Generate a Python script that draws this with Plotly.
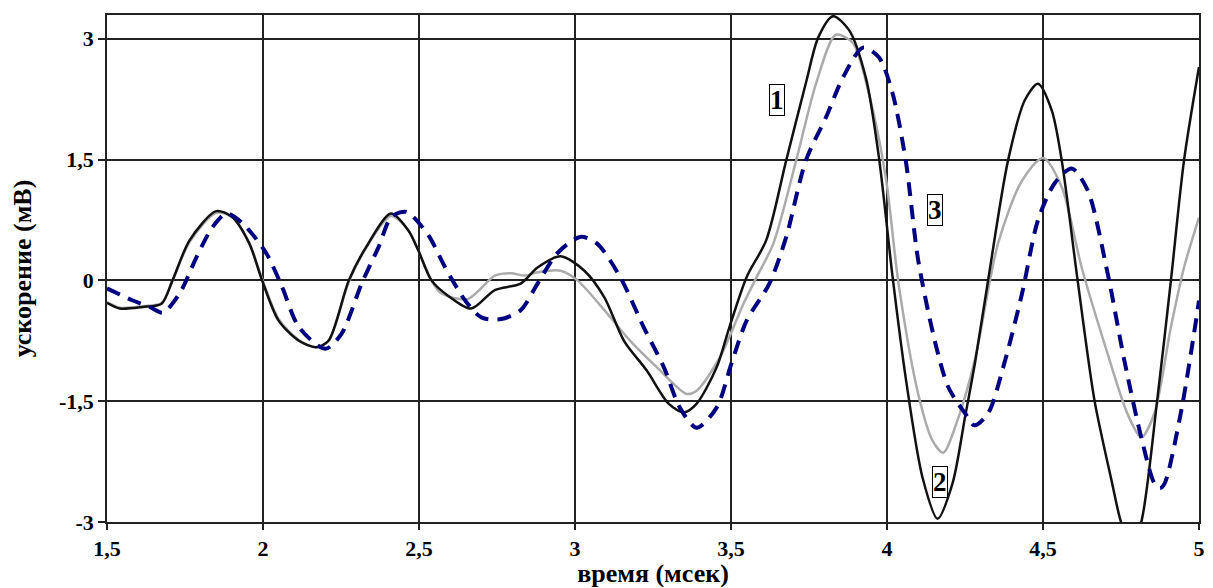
import plotly.graph_objects as go

# Series 1 (black)
x1 = [1.50, 1.541, 1.615, 1.675, 1.71, 1.765, 1.85, 1.90, 1.956, 1.997, 2.05, 2.115, 2.17, 2.21,
      2.275, 2.33, 2.41, 2.466, 2.498, 2.54, 2.593, 2.667, 2.743, 2.826, 2.88, 2.954, 3.03, 3.094,
      3.157, 3.23, 3.30, 3.349, 3.39, 3.454, 3.495, 3.55, 3.613, 3.677, 3.74, 3.78, 3.827, 3.878,
      3.932, 3.974, 4.018, 4.06, 4.114, 4.162, 4.21, 4.25, 4.283, 4.324, 4.388, 4.442, 4.484,
      4.528, 4.56, 4.611, 4.665, 4.72, 4.75, 4.783, 4.815, 4.866, 4.91, 4.952, 5.0]
y1 = [-0.28, -0.35, -0.33, -0.29, 0.0, 0.50, 0.86, 0.79, 0.46, 0.0, -0.50, -0.75, -0.83, -0.75,
      0.0, 0.41, 0.83, 0.62, 0.37, 0.0, -0.19, -0.35, -0.12, -0.04, 0.16, 0.30, 0.12, -0.21,
      -0.75, -1.12, -1.53, -1.64, -1.53, -1.08, -0.58, 0.04, 0.50, 1.49, 2.45, 3.02, 3.28, 3.11,
      2.52, 1.53, 0.04, -1.21, -2.45, -2.96, -2.52, -1.70, -1.0, 0.0, 1.49, 2.24, 2.44,
      2.11, 1.49, 0.0, -1.49, -2.49, -3.0, -3.3, -3.0, -1.49, 0.0, 1.49, 2.65]

# Series 2 (gray)
x2 = [1.50, 1.541, 1.615, 1.675, 1.71, 1.765, 1.85, 1.90, 1.956, 1.997, 2.05, 2.115, 2.17, 2.21,
      2.275, 2.33, 2.41, 2.466, 2.498, 2.54, 2.571, 2.657, 2.743, 2.794, 2.839, 2.88, 2.954,
      3.008, 3.103, 3.177, 3.263, 3.358, 3.39, 3.464, 3.54, 3.582, 3.636, 3.709, 3.773, 3.836,
      3.89, 3.942, 3.996, 4.037, 4.10, 4.146, 4.18, 4.229, 4.283, 4.356, 4.433, 4.50, 4.56,
      4.624, 4.707, 4.77, 4.815, 4.857, 4.91, 4.952, 5.0]
y2 = [-0.27, -0.34, -0.32, -0.28, 0.0, 0.48, 0.84, 0.79, 0.46, 0.02, -0.48, -0.74, -0.83, -0.75,
      -0.02, 0.40, 0.80, 0.62, 0.37, 0.0, -0.16, -0.23, 0.06, 0.09, 0.06, 0.10, 0.12,
      0.0, -0.41, -0.75, -1.08, -1.41, -1.37, -0.96, -0.29, 0.04, 0.46, 1.49, 2.45, 3.05,
      2.95, 2.32, 1.28, -0.04, -1.41, -1.99, -2.14, -1.70, -0.96, 0.46, 1.24, 1.52, 1.16,
      0.16, -0.91, -1.65, -1.95, -1.65, -0.58, 0.16, 0.78]

# Series 3 (navy dashed)
x3 = [1.50, 1.583, 1.637, 1.679, 1.733, 1.787, 1.838, 1.883, 1.934, 2.01, 2.061, 2.115, 2.20,
      2.252, 2.316, 2.37, 2.412, 2.46, 2.53, 2.584, 2.648, 2.70, 2.763, 2.826, 2.88, 2.944,
      3.017, 3.07, 3.145, 3.22, 3.285, 3.336, 3.39, 3.454, 3.50, 3.55, 3.623, 3.677, 3.74,
      3.805, 3.859, 3.923, 3.974, 4.018, 4.06, 4.10, 4.155, 4.197, 4.25, 4.28, 4.324, 4.378,
      4.433, 4.484, 4.538, 4.592, 4.643, 4.707, 4.761, 4.815, 4.857, 4.875, 4.89, 4.943,
      4.984, 5.0]
y3 = [-0.10, -0.25, -0.33, -0.40, -0.16, 0.29, 0.66, 0.83, 0.71, 0.34, -0.08, -0.58, -0.85,
      -0.66, -0.04, 0.41, 0.79, 0.85, 0.56, 0.16, -0.25, -0.46, -0.48, -0.37, -0.04, 0.34,
      0.54, 0.46, 0.04, -0.58, -1.08, -1.58, -1.83, -1.58, -1.05, -0.50, -0.04, 0.54, 1.49,
      2.03, 2.52, 2.89, 2.77, 2.32, 1.49, 0.25, -0.78, -1.33, -1.65, -1.80, -1.65, -1.0,
      -0.16, 0.75, 1.21, 1.39, 1.12, 0.09, -1.0, -1.95, -2.52, -2.58, -2.52, -1.62,
      -0.66, -0.25]

xticks = [1.5, 2, 2.5, 3, 3.5, 4, 4.5, 5]
xticklabels = ["1,5", "2", "2,5", "3", "3,5", "4", "4,5", "5"]
yticks = [-3, -1.5, 0, 1.5, 3]
yticklabels = ["-3", "-1,5", "0", "1,5", "3"]

labels = ["1", "3", "2"]
label_x = [3.649, 4.155, 4.171]
label_y = [2.24, 0.87, -2.50]

fig = go.Figure()
fig.add_trace(go.Scatter(x=x2, y=y2, mode="lines", line=dict(color="#ababab", width=2.5, shape="spline", smoothing=0.8), showlegend=False))
fig.add_trace(go.Scatter(x=x1, y=y1, mode="lines", line=dict(color="#111111", width=2.5, shape="spline", smoothing=0.8), showlegend=False))
fig.add_trace(go.Scatter(x=x3, y=y3, mode="lines", line=dict(color="#000080", width=4, shape="spline", smoothing=0.8, dash="14px,9px"), showlegend=False))

for t, ax, ay in zip(labels, label_x, label_y):
    fig.add_annotation(x=ax, y=ay, text="<b>" + t + "</b>", showarrow=False,
                       font=dict(family="Liberation Serif", size=27, color="black"),
                       bordercolor="black", borderwidth=1, borderpad=0, bgcolor="white")

tickfont = dict(family="Liberation Serif", size=22, color="black", weight="bold")
titlefont = dict(family="Liberation Serif", size=26, color="black", weight="bold")
fig.update_layout(
    width=1213, height=588,
    margin=dict(l=107, r=8, t=15, b=66),
    plot_bgcolor="white", paper_bgcolor="white",
    xaxis=dict(range=[1.5, 5], tickvals=xticks, ticktext=xticklabels, showgrid=True,
               gridcolor="#222222", gridwidth=1.5, showline=True, linecolor="#222222", linewidth=1.5,
               mirror=True, ticks="outside", ticklen=6, tickcolor="#222222", tickwidth=1.5,
               tickfont=tickfont, zeroline=False,
               title=dict(text="время (мсек)", font=titlefont, standoff=0)),
    yaxis=dict(range=[-3, 3.295], tickvals=yticks, ticktext=yticklabels, showgrid=True,
               gridcolor="#222222", gridwidth=1.5, showline=True, linecolor="#222222", linewidth=1.5,
               mirror=True, ticks="outside", ticklen=7, tickcolor="#222222", tickwidth=1.5,
               tickfont=tickfont, zeroline=False,
               title=dict(text="ускорение (мВ)", font=titlefont, standoff=20)),
)

fig.write_html("out.html")
